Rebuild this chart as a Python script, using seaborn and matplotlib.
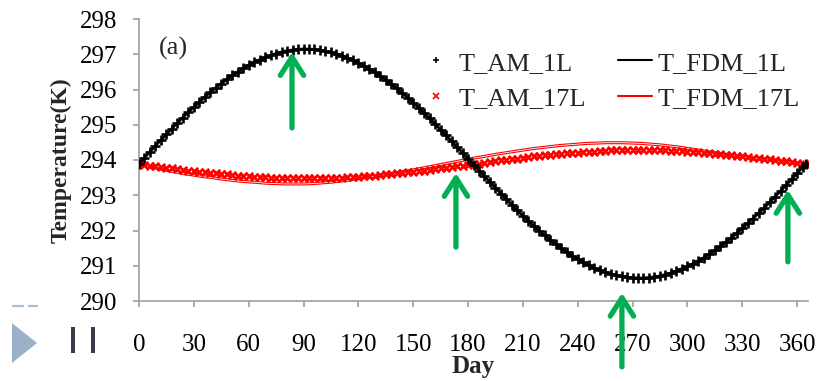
import matplotlib
matplotlib.use("Agg")
import matplotlib.pyplot as plt
import seaborn as sns
from matplotlib.lines import Line2D
from matplotlib.patches import Polygon, Rectangle
from matplotlib.patches import ArrowStyle

# ---------------- data ----------------
days_am = list(range(0, 364, 3)) + [365]
t_am_1l = [
    293.90, 294.07, 294.24, 294.40, 294.57, 294.73, 294.89, 295.05, 295.20, 295.36,
    295.50, 295.65, 295.79, 295.92, 296.05, 296.17, 296.29, 296.40, 296.50, 296.60,
    296.69, 296.77, 296.85, 296.91, 296.97, 297.02, 297.07, 297.10, 297.12, 297.14,
    297.15, 297.15, 297.14, 297.12, 297.09, 297.06, 297.02, 296.96, 296.90, 296.84,
    296.76, 296.68, 296.59, 296.49, 296.38, 296.27, 296.15, 296.03, 295.90, 295.77,
    295.63, 295.48, 295.33, 295.18, 295.02, 294.86, 294.70, 294.54, 294.37, 294.21,
    294.04, 293.87, 293.70, 293.54, 293.37, 293.21, 293.04, 292.88, 292.72, 292.57,
    292.42, 292.27, 292.13, 291.99, 291.86, 291.73, 291.61, 291.49, 291.38, 291.28,
    291.18, 291.10, 291.01, 290.94, 290.88, 290.82, 290.77, 290.73, 290.70, 290.67,
    290.66, 290.65, 290.65, 290.66, 290.68, 290.71, 290.75, 290.79, 290.85, 290.91,
    290.98, 291.05, 291.14, 291.23, 291.33, 291.44, 291.55, 291.67, 291.79, 291.92,
    292.06, 292.20, 292.34, 292.49, 292.65, 292.80, 292.96, 293.12, 293.29, 293.45,
    293.62, 293.79, 293.90,
]
t_am_17l = [
    293.88, 293.86, 293.84, 293.82, 293.80, 293.78, 293.76, 293.74, 293.72, 293.70,
    293.68, 293.66, 293.65, 293.63, 293.62, 293.60, 293.59, 293.57, 293.56, 293.55,
    293.54, 293.53, 293.52, 293.51, 293.50, 293.50, 293.49, 293.49, 293.48, 293.48,
    293.48, 293.48, 293.48, 293.48, 293.49, 293.49, 293.50, 293.50, 293.51, 293.52,
    293.53, 293.54, 293.55, 293.56, 293.57, 293.59, 293.60, 293.62, 293.63, 293.65,
    293.67, 293.69, 293.70, 293.72, 293.74, 293.76, 293.78, 293.80, 293.82, 293.84,
    293.86, 293.88, 293.90, 293.92, 293.95, 293.97, 293.99, 294.01, 294.03, 294.04,
    294.06, 294.08, 294.10, 294.12, 294.13, 294.15, 294.16, 294.18, 294.19, 294.20,
    294.21, 294.23, 294.24, 294.24, 294.25, 294.26, 294.27, 294.27, 294.27, 294.28,
    294.28, 294.28, 294.28, 294.28, 294.28, 294.27, 294.27, 294.26, 294.26, 294.25,
    294.24, 294.23, 294.22, 294.21, 294.20, 294.18, 294.17, 294.15, 294.14, 294.12,
    294.11, 294.09, 294.07, 294.05, 294.03, 294.02, 294.00, 293.98, 293.96, 293.94,
    293.91, 293.89, 293.88,
]
days_fdm = list(range(0, 366, 5))
t_fdm_1l = [
    293.90, 294.18, 294.46, 294.73, 295.00, 295.26, 295.50, 295.74, 295.97, 296.17,
    296.36, 296.54, 296.69, 296.82, 296.93, 297.02, 297.09, 297.13, 297.15, 297.14,
    297.11, 297.06, 296.98, 296.88, 296.76, 296.62, 296.45, 296.27, 296.07, 295.86,
    295.63, 295.38, 295.13, 294.86, 294.59, 294.32, 294.04, 293.76, 293.48, 293.21,
    292.94, 292.67, 292.42, 292.17, 291.94, 291.73, 291.53, 291.35, 291.18, 291.04,
    290.92, 290.82, 290.74, 290.69, 290.66, 290.65, 290.67, 290.71, 290.78, 290.87,
    290.98, 291.11, 291.26, 291.44, 291.63, 291.83, 292.06, 292.30, 292.54, 292.80,
    293.07, 293.34, 293.62, 293.90,
]
t_fdm_17l = [
    293.88, 293.82, 293.76, 293.71, 293.66, 293.61, 293.57, 293.53, 293.50, 293.46,
    293.43, 293.40, 293.38, 293.36, 293.34, 293.33, 293.32, 293.32, 293.32, 293.33,
    293.35, 293.37, 293.40, 293.43, 293.47, 293.51, 293.55, 293.59, 293.63, 293.68,
    293.72, 293.77, 293.82, 293.87, 293.92, 293.97, 294.02, 294.07, 294.11, 294.16,
    294.20, 294.24, 294.28, 294.32, 294.35, 294.38, 294.41, 294.43, 294.45, 294.47,
    294.48, 294.49, 294.49, 294.49, 294.48, 294.47, 294.45, 294.43, 294.40, 294.37,
    294.33, 294.29, 294.25, 294.21, 294.17, 294.13, 294.09, 294.05, 294.02, 293.99,
    293.96, 293.93, 293.90, 293.88,
]
series_labels = ["T_AM_1L", "T_AM_17L", "T_FDM_1L", "T_FDM_17L"]
x_ticks = list(range(0, 361, 30))
y_ticks = list(range(290, 299))
# green arrows: (day, tail value, head value)
arrow_day = [83.7, 173.4, 264.2, 355.0]
arrow_from = [294.91, 291.53, 288.13, 291.11]
arrow_to = [297.06, 293.63, 290.23, 293.15]

# ---------------- style ----------------
sns.set_theme(style="ticks")
plt.rcParams["font.family"] = ["Liberation Serif", "DejaVu Serif"]

W, H = 818, 381
fig = plt.figure(figsize=(W / 100, H / 100), dpi=100)
ax = fig.add_axes([139 / W, 1 - 301 / H, (808 - 139) / W, (301 - 19) / H])

sns.lineplot(x=days_fdm, y=t_fdm_17l, ax=ax, color="red", lw=2.2, legend=False, zorder=2)
sns.lineplot(x=days_fdm, y=t_fdm_17l, ax=ax, color="white", lw=0.6, legend=False, zorder=2.1)
sns.scatterplot(x=days_am, y=t_am_17l, ax=ax, marker="x", color="red", s=28,
                linewidth=1.9, legend=False, zorder=3)
sns.lineplot(x=days_fdm, y=t_fdm_1l, ax=ax, color="black", lw=2.0, legend=False, zorder=4)
sns.scatterplot(x=days_am, y=t_am_1l, ax=ax, marker="+", color="black", s=42,
                linewidth=1.9, legend=False, zorder=5)

ax.set_xlim(0, 366)
ax.set_ylim(290, 298)
ax.set_xticks(x_ticks)
ax.set_yticks(y_ticks)
for s in ["top", "right"]:
    ax.spines[s].set_visible(False)
for s in ["left", "bottom"]:
    ax.spines[s].set_color("#A6A6A6")
    ax.spines[s].set_linewidth(1.3)
ax.tick_params(axis="both", direction="out", color="#A6A6A6", width=1.3,
               labelsize=18, labelcolor="black")
ax.tick_params(axis="y", length=4.5, pad=11)
ax.tick_params(axis="x", length=4.5, pad=19.5)
ax.set_xlabel("Day", fontsize=18, fontweight="bold", labelpad=-1)
ax.set_ylabel("Temperature(K)", fontsize=17, fontweight="bold", labelpad=6)

# legend
handles = [
    Line2D([], [], ls="", marker="+", color="black", ms=5, mew=1.2),
    Line2D([], [], ls="", marker="x", color="red", ms=4, mew=1.2),
    Line2D([], [], color="black", lw=1.5),
    Line2D([], [], color="red", lw=1.5),
]
fig.legend(handles, series_labels, ncol=2, frameon=False, loc="upper left",
           bbox_to_anchor=(406 / W, 1 - 38 / H), fontsize=19, handlelength=1.3,
           handletextpad=0.2, columnspacing=1.2, labelspacing=0.45, borderpad=0)

fig.text(159 / W, 1 - 48 / H, "(a)", fontsize=19, va="center", ha="left")

# green arrows
for xd, y0, y1 in zip(arrow_day, arrow_from, arrow_to):
    ax.annotate("", xy=(xd, y1), xytext=(xd, y0), annotation_clip=False,
                arrowprops=dict(arrowstyle=ArrowStyle("->", head_length=0.55, head_width=0.35),
                                color="#00B050", lw=3.8, mutation_scale=24,
                                shrinkA=0, shrinkB=0), zorder=6)

# slide decorations at the bottom left
fig.add_artist(Polygon([[12 / W, 1 - 323 / H], [12 / W, 1 - 363 / H], [37 / W, 1 - 343 / H]],
                       closed=True, transform=fig.transFigure, color="#9BB1CA", lw=0))
for x0 in (71, 91):
    fig.add_artist(Rectangle((x0 / W, 1 - 353 / H), 4 / W, 26 / H,
                             transform=fig.transFigure, color="#3B3B4B", lw=0))
for xa, xb in ((13, 23), (29, 37)):
    fig.add_artist(Line2D([xa / W, xb / W], [1 - 306 / H, 1 - 306 / H],
                          transform=fig.transFigure, color="#A9BDD4", lw=1.6))

fig.savefig("out.png", dpi=100)
